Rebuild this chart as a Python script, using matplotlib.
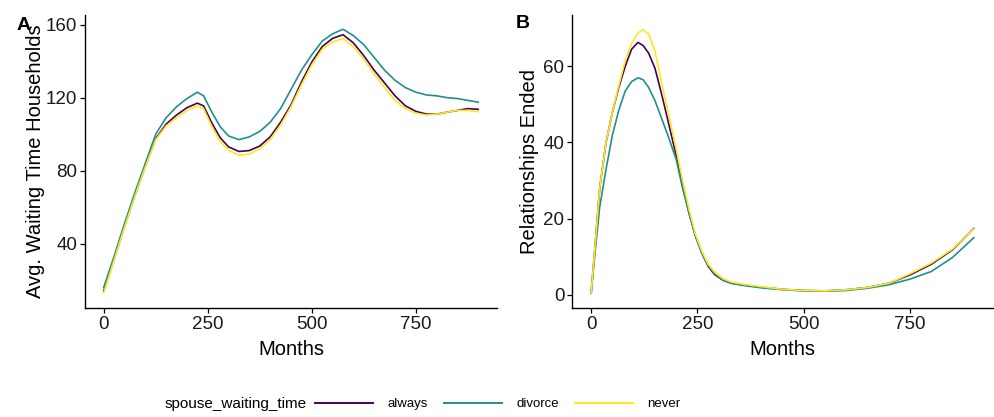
import numpy as np
import matplotlib
matplotlib.use("Agg")
import matplotlib.pyplot as plt
from matplotlib.lines import Line2D

plt.rcParams['font.family'] = ['Liberation Sans', 'DejaVu Sans']

# panel A: avg waiting time households
months_a = [0, 25, 50, 75, 100, 125, 150, 175, 200, 225, 240, 260, 280, 300, 325, 350,
            375, 400, 425, 450, 475, 500, 525, 550, 575, 600, 625, 650, 675, 700, 725,
            750, 775, 800, 825, 850, 875, 900]
wait_always = [14, 31.5, 49.5, 66.5, 82.5, 97.5, 105.5, 110.5, 114.5, 117, 115.5, 106, 98,
               93, 90.5, 91, 93.5, 98.5, 106.5, 116, 128.5, 139.5, 148, 152.5, 154.5, 150,
               143, 135, 128, 121, 115.5, 112.5, 111, 111, 112, 113, 114, 113.6]
wait_divorce = [16, 33, 51, 68, 84, 100, 109, 115, 119.5, 123, 121, 112, 104, 99, 97, 98.5,
                101.5, 106.5, 114, 124.5, 135, 143.5, 151, 155, 157.5, 154, 149, 142, 135,
                129.5, 125.5, 123, 121.5, 121, 120, 119.5, 118.5, 117.5]
wait_never = [13, 31, 49, 66, 82, 97, 104.5, 109, 113, 115.5, 114, 104, 96, 91, 88.5, 89,
              92, 97, 105, 115, 127, 138, 146.5, 150.5, 152.5, 148, 141, 133, 125.5, 118.5,
              114, 111.5, 110.5, 111, 112, 113, 113, 112.3]

# panel B: relationships ended
months_b = [0, 10, 20, 35, 50, 65, 80, 95, 110, 122, 135, 150, 165, 180, 200, 215, 230,
            245, 260, 275, 290, 310, 330, 360, 400, 450, 500, 550, 600, 650, 700, 750,
            800, 850, 900]
ended_always = [0.5, 14, 28, 40, 48, 54.5, 60, 64.5, 66.3, 65.5, 63.5, 59.5, 53, 46, 36.5,
                28.5, 21.5, 15.5, 11, 7.5, 5.3, 3.8, 3.0, 2.5, 2.0, 1.4, 1.1, 1.0, 1.3,
                1.9, 3.0, 5.2, 8.0, 11.8, 17.4]
ended_divorce = [0.5, 12, 23, 33, 42, 48.5, 53.5, 56, 57, 56.5, 54.5, 51, 46.5, 42, 35.5,
                 28, 21.5, 15.5, 11, 7.8, 5.5, 3.8, 3.0, 2.4, 1.8, 1.3, 1.0, 0.9, 1.1,
                 1.7, 2.6, 4.1, 6.1, 9.8, 15.0]
ended_never = [0.5, 14, 28, 40, 48, 55, 61.5, 66, 68.8, 69.6, 68.5, 64, 56, 48.5, 38.3, 30,
               22.5, 16, 11.5, 8, 6, 4.2, 3.3, 2.7, 2.1, 1.4, 1.1, 1.0, 1.3, 1.9, 3.0, 5.5,
               8.3, 12.0, 17.3]

groups = ['always', 'divorce', 'never']
colors = ['#440154', '#21908C', '#FDE725']

fig = plt.figure(figsize=(9.94, 4.17), dpi=100)
ax1 = fig.add_axes([0.0855, 0.2614, 0.4145, 0.7026])
ax2 = fig.add_axes([0.5755, 0.2614, 0.4235, 0.7026])

for ys, c in zip([wait_always, wait_divorce, wait_never], colors):
    ax1.plot(months_a, ys, color=c, lw=1.2)
for ys, c in zip([ended_always, ended_divorce, ended_never], colors):
    ax2.plot(months_b, ys, color=c, lw=1.2)

ax1.set_ylim(4.7, 165.3)
ax1.set_yticks([40, 80, 120, 160])
ax2.set_ylim(-3.5, 73.5)
ax2.set_yticks([0, 20, 40, 60])
ax1.set_ylabel('Avg. Waiting Time Households', fontsize=14.5, labelpad=1)
ax2.set_ylabel('Relationships Ended', fontsize=14.5, labelpad=3)

for ax in (ax1, ax2):
    ax.set_xlim(-45, 945)
    ax.set_xticks([0, 250, 500, 750])
    ax.set_xlabel('Months', fontsize=14.5, labelpad=5)
    for s in ['top', 'right']:
        ax.spines[s].set_visible(False)
    for s in ['left', 'bottom']:
        ax.spines[s].set_linewidth(1.0)
        ax.spines[s].set_color('black')
    ax.tick_params(length=3.5, width=0.9, labelsize=13.5, colors='black',
                   labelcolor='#1a1a1a', pad=2)

fig.text(17 / 994, 1 - 25 / 417, 'A', fontsize=14, fontweight='bold', va='center')
fig.text(516 / 994, 1 - 23 / 417, 'B', fontsize=14, fontweight='bold', va='center')

# legend along the bottom
fig.text(165 / 994, 1 - 404 / 417, 'spouse_waiting_time', fontsize=11, va='center')
handles = [Line2D([], [], color=c, lw=1.4) for c in colors]
fig.legend(handles, groups, loc='center left', bbox_to_anchor=(315 / 994, 1 - 404 / 417),
           ncol=3, frameon=False, fontsize=9.5, handlelength=4.4, handletextpad=1.1,
           columnspacing=1.2, borderpad=0, borderaxespad=0)

fig.savefig('out.png', dpi=100)
